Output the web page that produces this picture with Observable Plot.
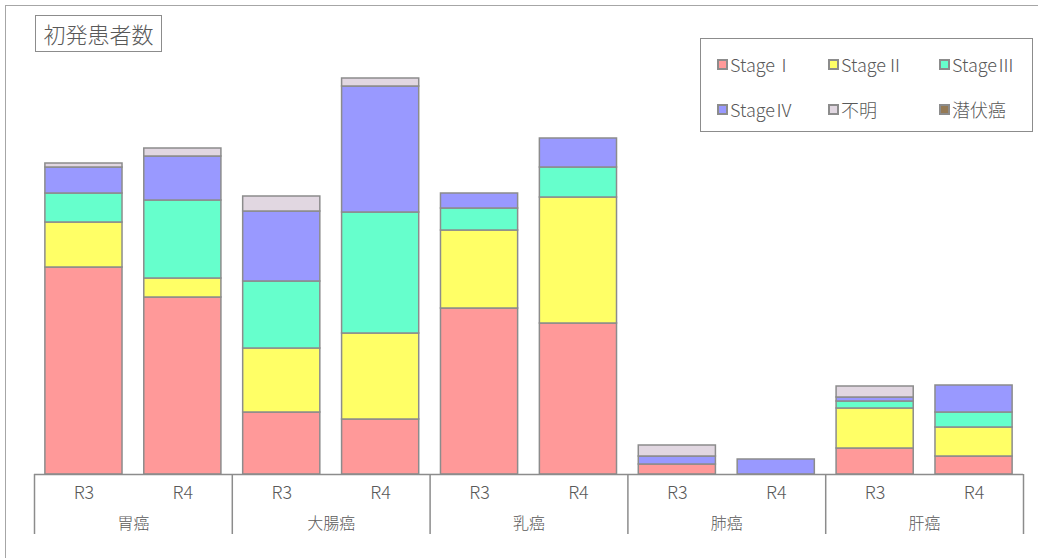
<!DOCTYPE html>
<html>
<head>
<meta charset="utf-8">
<script src="https://cdn.jsdelivr.net/npm/d3@7"></script>
<script src="https://cdn.jsdelivr.net/npm/@observablehq/plot@0.6"></script>
<style>
  html, body { margin: 0; padding: 0; background: #fff; overflow: hidden; }
  body { width: 1038px; height: 558px; position: relative;
         font-family: "Noto Sans CJK JP", "Noto Sans", sans-serif; font-weight: 300; color: #595959; }
  #frame { position: absolute; left: 5px; top: 5px; width: 1100px; height: 600px;
           border: 1.5px solid #a6a6a6; box-sizing: border-box; }
  #chart { position: absolute; left: 0; top: 0; }
  #title { position: absolute; left: 35px; top: 15px; width: 127px; height: 37px;
           border: 1.5px solid #8c8c8c; box-sizing: border-box; background: #fff;
           font-size: 22px; line-height: 34px; text-align: center; }
  #legendBox { position: absolute; left: 700px; top: 38px; width: 333px; height: 94px;
               border: 1.5px solid #8c8c8c; box-sizing: border-box; background: #fff; }
  #legend { position: absolute; left: 718px; top: 53px; width: 333px; }
  #legend .lg-swatches { font-family: "Noto Sans CJK JP", "Noto Sans", sans-serif; font-weight: 300;
                         font-size: 18px; color: #595959; margin: 0; width: 333px;
                         display: flex; flex-wrap: wrap; }
  #legend .lg-swatch { width: 111px; height: 22px; margin: 0 0 23px 0;
                       display: inline-flex; align-items: center; }
  #legend .lg-swatch > svg { margin-right: 3px; overflow: visible; }
  #legend .lg-swatch rect { stroke: #8c8c8c; stroke-width: 2px; }
</style>
</head>
<body>
<div id="frame"></div>
<div id="chart"></div>
<div id="title">初発患者数</div>
<div id="legendBox"></div>
<div id="legend"></div>
<script>
// Cancer sites and fiscal years (each site has an R3 and an R4 bar)
const cancers = ["胃癌", "大腸癌", "乳癌", "肺癌", "肝癌"];
const years = ["R3", "R4"];

// Stage categories, stacked bottom to top
const stages = ["StageⅠ", "StageⅡ", "StageⅢ", "StageⅣ", "不明", "潜伏癌"];
const stageColors = ["#ff9999", "#ffff66", "#66ffcc", "#9999ff", "#e1d7e1", "#957a55"];

// Counts per bar, in order 胃癌R3, 胃癌R4, 大腸癌R3, 大腸癌R4, 乳癌R3, 乳癌R4, 肺癌R3, 肺癌R4, 肝癌R3, 肝癌R4
const stage1  = [207, 177,  62,  55, 166, 151, 10,  0, 26, 18];
const stage2  = [ 45,  19,  64,  86,  78, 126,  0,  0, 40, 29];
const stage3  = [ 29,  78,  67, 121,  22,  30,  0,  0,  7, 15];
const stage4  = [ 26,  44,  70, 126,  15,  29,  8, 15,  4, 27];
const unknown = [  4,   8,  15,   8,   0,   0, 11,  0, 11,  0];
const latent  = [  0,   0,   0,   0,   0,   0,  0,  0,  0,  0];

const series = [stage1, stage2, stage3, stage4, unknown, latent];

const keys = cancers.flatMap(c => years.map(y => `${c}|${y}`));
const rows = [];
keys.forEach((k, i) => {
  stages.forEach((s, j) => rows.push({key: k, stage: s, value: series[j][i]}));
});

const W = 1038, H = 558, ML = 34, MR = 15, MT = 74, MB = 84;
const step = (W - ML - MR) / keys.length;
const groupStarts = cancers.map(c => `${c}|${years[0]}`);
const lastKey = keys[keys.length - 1];
const axisColor = "#8c8c8c";
const font = `"Noto Sans CJK JP", "Noto Sans", sans-serif`;

const chart = Plot.plot({
  width: W, height: H,
  marginLeft: ML, marginRight: MR, marginTop: MT, marginBottom: MB,
  style: {fontFamily: font, fontWeight: 300, color: "#595959", background: "none", overflow: "visible"},
  x: {domain: keys, paddingInner: 0.22, paddingOuter: 0.11, round: false, axis: null},
  y: {domain: [0, 400], axis: null},
  color: {domain: stages, range: stageColors},
  marks: [
    Plot.barY(rows, {
      x: "key", y: "value", fill: "stage",
      filter: d => d.value > 0,
      stroke: axisColor, strokeWidth: 1.5
    }),
    Plot.ruleY([0], {stroke: axisColor, strokeWidth: 1.5}),
    // group separators below the baseline
    Plot.axisX({ticks: groupStarts, tickSize: 60, tickFormat: () => "", dx: -step / 2,
                stroke: axisColor, strokeWidth: 1.5, label: null}),
    Plot.axisX({ticks: [lastKey], tickSize: 60, tickFormat: () => "", dx: step / 2,
                stroke: axisColor, strokeWidth: 1.5, label: null}),
    // year labels
    Plot.axisX({tickSize: 0, tickPadding: 12, tickFormat: k => k.split("|")[1],
                fontSize: 18, fill: "#595959", label: null}),
    // cancer site labels
    Plot.axisX({ticks: groupStarts, tickSize: 0, tickPadding: 43, dx: step / 2,
                tickFormat: k => k.split("|")[0], fontSize: 16, fill: "#595959", label: null})
  ]
});
document.getElementById("chart").append(chart);

const legend = Plot.legend({
  color: {domain: stages, range: stageColors},
  legend: "swatches",
  swatchSize: 9,
  className: "lg"
});
document.getElementById("legend").append(legend);
</script>
</body>
</html>
